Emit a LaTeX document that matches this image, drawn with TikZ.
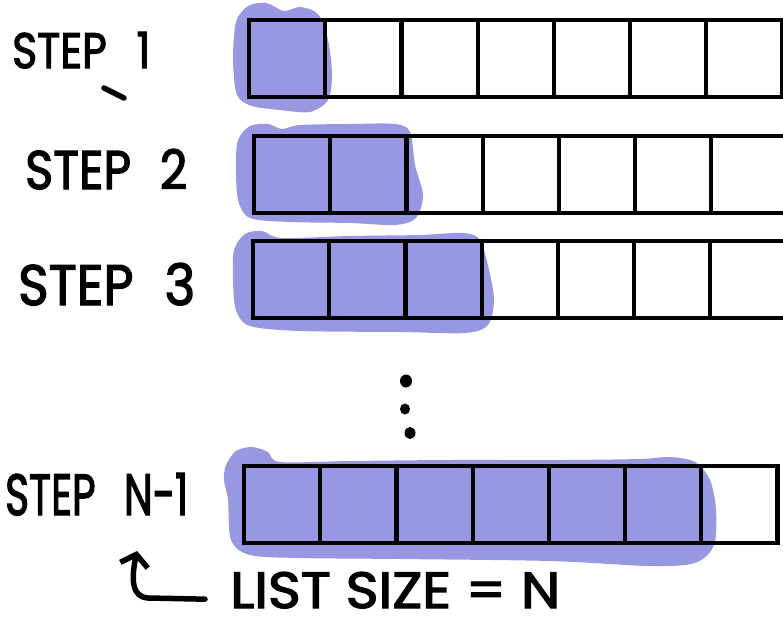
\documentclass[tikz,border=0pt]{standalone}
\usepackage{fontspec}
\setmainfont{Poppins}
\newfontfamily\penfont{Poppins}[FakeBold=2.5]
\usetikzlibrary{arrows.meta}
\definecolor{highlight}{RGB}{152,152,226}
% hand-lettered label: \handtext{width}{cap height}{text}
\newcommand{\handtext}[3]{\resizebox{#1}{#2}{\penfont #3}}
\tikzset{
  cell/.style={draw=black, line width=4.2pt, minimum width=76.2pt,
    minimum height=77pt, inner sep=0pt, anchor=north west},
  marker/.style={fill=highlight, draw=none},
  label/.style={inner sep=0pt, anchor=base west, text=black},
  pen/.style={line width=5.5pt, line cap=round, line join=round},
}
\begin{document}
\begin{tikzpicture}[x=1pt, y=-1pt]
\useasboundingbox (0,0) rectangle (783,618);

% highlighter strokes behind the sorted part of each row
\fill[marker] plot[smooth cycle] coordinates {(236,22) (248,6) (266,3) (284,11) (300,7) (318,14) (328,40) (332,75) (328,100) (310,112) (280,110) (252,106) (237,95) (233,60)};
\fill[marker] plot[smooth cycle] coordinates {(238,140) (250,126) (268,124) (282,129) (300,125) (350,124) (395,124) (410,132) (415,165) (423,195) (416,218) (395,225) (350,223) (290,222) (250,218) (238,200) (236,165)};
\fill[marker] plot[smooth cycle] coordinates {(234,250) (245,234) (262,231) (282,238) (350,236) (420,235) (463,233) (480,240) (489,270) (494,300) (488,325) (465,333) (400,332) (300,331) (250,326) (236,310) (233,280)};
\fill[marker] plot[smooth cycle] coordinates {(226,465) (236,451) (252,447) (268,452) (280,462) (350,461) (450,460) (560,460) (640,459) (670,457) (695,462) (710,480) (716,510) (714,545) (695,563) (650,566) (550,561) (400,559) (300,558) (250,555) (231,540) (228,500) (224,480)};

% the list, drawn once per step
\foreach \r/\x/\y in {1/247/18, 2/252/134, 3/251/239, 4/242/464}{
  \foreach \c in {1,...,7}{
    \node[cell] (r\r c\c) at ({\x+(\c-1)*76.2},\y) {};
  }
}

% step labels
\node[label] (step1) at (12,68)  {\handtext{138pt}{36pt}{STEP\hspace{0.7em}1}};
\node[label] (step2) at (25,189) {\handtext{162pt}{40pt}{STEP\hspace{0.6em}2}};
\node[label] (step3) at (18,305) {\handtext{177pt}{42pt}{STEP\hspace{0.6em}3}};
\node[label] (step4) at (5,515)  {\handtext{183pt}{42pt}{STEP\hspace{0.7em}N-1}};
\draw[pen] (104,88) -- (124,98);

% vertical ellipsis between step 3 and step N-1
\fill (406,381) ellipse [x radius=6pt, y radius=6.5pt];
\fill (405,409) ellipse [x radius=5pt, y radius=5.5pt];
\fill (410,433) ellipse [x radius=5.5pt, y radius=6pt];

% list size note with arrow pointing up at the last step
\node[label] (lsize) at (230,608) {\handtext{330pt}{36pt}{LIST SIZE = N}};
\coordinate (tip) at (137,551);
\draw[pen, -{Straight Barb[length=11pt, width=28pt]}]
  ([xshift=-25pt, yshift=-9pt]lsize.west) -- (148,598)
  .. controls (132,597) and (131,580) .. (tip);
\end{tikzpicture}
\end{document}
